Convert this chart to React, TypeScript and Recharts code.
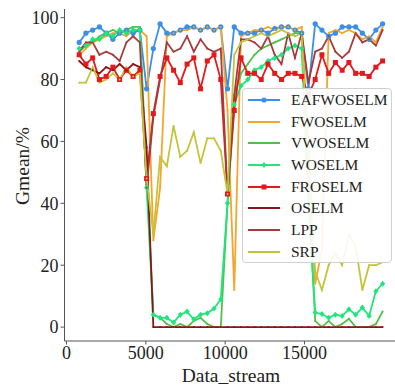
import React from 'react';
import { LineChart, Line, XAxis, YAxis, Legend } from 'recharts';

// data stream positions (x)
const streamPos = [
  800, 1225, 1650, 2075, 2500, 2925, 3350, 3775, 4200, 4625,
  5050, 5475, 5900, 6325, 6750, 7175, 7600, 8025, 8450, 8875,
  9300, 9725, 10150, 10575, 11000, 11425, 11850, 12275, 12700, 13125,
  13550, 13975, 14400, 14825, 15250, 15675, 16100, 16525, 16950, 17375,
  17800, 18225, 18650, 19075, 19500, 19925,
];

const eafwoselm = [
  92, 95, 96, 97, 95, 93, 95, 96, 95, 96,
  77, 90, 98, 95, 95, 96, 97, 97, 96, 97,
  96, 97, 77, 97, 95, 95, 95, 96, 95, 96.5,
  97, 97, 96, 95, 77, 98, 96, 94, 95, 97,
  97, 97, 95, 93, 96, 98,
];
const fwoselm = [
  88, 90, 92, 93, 94, 95, 95, 94, 96, 96,
  94, 28, 45, 94, 95, 96, 96, 97, 96, 97,
  96, 97, 70, 12, 94, 95, 96, 96, 97, 96,
  97, 97, 96, 97, 60, 14, 25, 95, 96, 95,
  96, 95, 93, 94, 92, 97,
];
const vwoselm = [
  89, 91, 92, 94, 95, 96, 95, 96, 97, 97,
  50, 4, 3, 1, 0, 1, 0, 2, 3, 1,
  0, 0, 40, 75, 82, 85, 88, 90, 91, 92,
  93, 94, 95, 95, 45, 2, 0, 2, 0, 1,
  2.7, 0, 0, 0, 1, 5,
];
const woselm = [
  90, 91, 93, 93, 95, 94, 96, 95, 96, 96,
  45, 4, 3, 3, 1.5, 4, 5, 2.5, 4, 4.5,
  6, 9, 40, 72, 78, 80, 83, 84, 86, 87,
  88, 90, 91, 90, 40, 4.7, 4.2, 3, 4, 3.6,
  5.8, 4, 6.3, 3.6, 11.6, 14,
];
const froselm = [
  88, 85, 87, 80, 81, 84, 80, 83, 81, 83,
  48, 69, 81, 87, 83, 79, 85, 87, 77, 86,
  88, 80, 43, 70, 87, 82, 82, 80, 85, 82,
  80, 82, 82, 81, 75, 80, 88, 82, 85.5, 83,
  85.5, 82, 82, 81, 84, 86,
];
const oselm = [
  86, 84, 83, 82, 84, 83, 85, 83, 85, 84,
  58, 0, 0, 0, 0, 0, 0, 0, 0, 0,
  0, 0, 0, 0, 0, 0, 0, 0, 0, 0,
  0, 0, 0, 0, 0, 0, 0, 0, 0, 0,
  0, 0, 0, 0, 0, 0,
];
const lpp = [
  89, 92, 92, 88, 89, 88, 86, 92, 94, 92,
  45, 68, 80, 92, 89, 90, 94, 89, 93, 90,
  89, 90, 43, 75, 93, 93, 92, 90, 94, 88,
  85, 95, 87, 95, 79, 89, 90, 94, 89, 87,
  89, 95, 92, 93, 91, 96,
];
const srp = [
  79, 79, 84, 79, 80, 82, 80, 84, 81, 82,
  48, 30, 55, 52, 65, 55, 57, 63, 53, 61,
  61, 57, 43, 88, 92, 93, 94, 95, 94, 95,
  96, 95, 94, 95, 50, 18, 12, 20, 24, 20,
  30, 26, 12, 20, 20, 21,
];

const seriesNames = ['EAFWOSELM', 'FWOSELM', 'VWOSELM', 'WOSELM', 'FROSELM', 'OSELM', 'LPP', 'SRP'];
const seriesValues = [eafwoselm, fwoselm, vwoselm, woselm, froselm, oselm, lpp, srp];
const seriesColors = ['#3b8fe8', '#f5a52c', '#4fc24a', '#1fe67c', '#e3191c', '#8c1414', '#a53c3c', '#c4c43a'];
const markerKinds = ['circle', 'small', 'small', 'diamond', 'square', 'small', 'small', 'small'];

const xTicks = [0, 5000, 10000, 15000];
const yTicks = [0, 20, 40, 60, 80, 100];

const data = streamPos.map((x, i) => {
  const row: Record<string, number> = { x };
  seriesNames.forEach((name, s) => {
    row[name] = seriesValues[s][i];
  });
  return row;
});

const FONT = '"Liberation Serif", "Times New Roman", serif';
const AXIS = '#555';

function Marker({ kind, cx, cy, color }: { kind: string; cx: number; cy: number; color: string }) {
  if (kind === 'circle') return <circle cx={cx} cy={cy} r={2.6} fill={color} />;
  if (kind === 'square') return <rect x={cx - 2.5} y={cy - 2.5} width={5} height={5} fill={color} />;
  if (kind === 'diamond')
    return <path d={`M${cx},${cy - 3}L${cx + 2.6},${cy}L${cx},${cy + 3}L${cx - 2.6},${cy}Z`} fill={color} />;
  return <circle cx={cx} cy={cy} r={1} fill={color} />;
}

function LegendBox() {
  return (
    <div
      style={{
        width: 150,
        height: 175,
        boxSizing: 'border-box',
        border: '1px solid #d0d0d0',
        borderRadius: 4,
        background: 'rgba(255,255,255,0.9)',
        fontFamily: FONT,
        fontSize: 15.5,
        color: '#222',
        paddingTop: 0,
      }}
    >
      {seriesNames.map((name, s) => (
        <div key={name} style={{ height: 21.7, display: 'flex', alignItems: 'center', whiteSpace: 'nowrap' }}>
          <svg width={44} height={10} style={{ marginLeft: 4, flex: 'none' }}>
            <line x1={1} y1={5} x2={33} y2={5} stroke={seriesColors[s]} strokeWidth={2} />
            <Marker kind={markerKinds[s]} cx={17} cy={5} color={seriesColors[s]} />
          </svg>
          <span>{name}</span>
        </div>
      ))}
    </div>
  );
}

export default function App() {
  return (
    <div style={{ position: 'absolute', left: 0, top: 0, width: 395, height: 386, overflow: 'hidden', background: '#fff' }}>
      <LineChart width={400} height={386} data={data} margin={{ top: 9, right: 1, bottom: 0, left: 0 }}>
        <XAxis
          dataKey="x"
          type="number"
          domain={[-125, 20958]}
          ticks={xTicks}
          allowDataOverflow
          height={45}
          stroke={AXIS}
          tickSize={3.5}
          tickMargin={2}
          tick={{ fill: '#222', fontSize: 18, fontFamily: FONT }}
          label={{
            content: () => (
              <text x={231} y={382} textAnchor="middle" fontFamily={FONT} fontSize={19.5} fill="#222">
                Data_stream
              </text>
            ),
          }}
        />
        <XAxis xAxisId="top" dataKey="x" type="number" domain={[-125, 20958]} orientation="top" height={0} tick={false} tickLine={false} stroke={AXIS} />
        <YAxis
          type="number"
          domain={[-4.5, 102.8]}
          ticks={yTicks}
          allowDataOverflow
          width={64.5}
          stroke={AXIS}
          tickSize={4}
          tickMargin={2}
          tick={{ fill: '#222', fontSize: 18, fontFamily: FONT }}
          label={{
            content: () => (
              <text
                x={22}
                y={166}
                textAnchor="middle"
                dominantBaseline="central"
                transform="rotate(-90 22 166)"
                fontFamily={FONT}
                fontSize={19.5}
                fill="#222"
              >
                Gmean/%
              </text>
            ),
          }}
        />
        {seriesNames.map((name, s) => (
          <Line
            key={name}
            dataKey={name}
            stroke={seriesColors[s]}
            strokeWidth={1.8}
            isAnimationActive={false}
            dot={(p: any) => <Marker key={`${name}-${p.index}`} kind={markerKinds[s]} cx={p.cx} cy={p.cy} color={seriesColors[s]} />}
            activeDot={false}
          />
        ))}
        <Legend
          layout="vertical"
          align="center"
          verticalAlign="middle"
          wrapperStyle={{ left: 242, top: 88, width: 150, height: 175 }}
          content={() => <LegendBox />}
        />
      </LineChart>
    </div>
  );
}
